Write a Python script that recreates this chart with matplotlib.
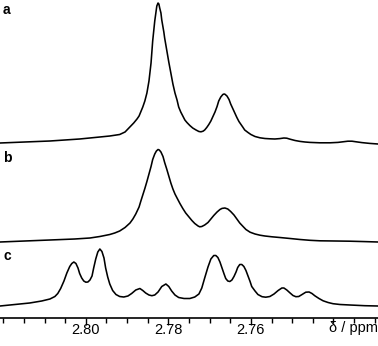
import matplotlib
matplotlib.use("Agg")
import matplotlib.pyplot as plt
from matplotlib.ticker import MultipleLocator
import matplotlib.transforms as mtransforms

plt.rcParams['font.family'] = ['Liberation Sans', 'DejaVu Sans']

# ---- data (chemical shift in ppm, intensity in arbitrary units) ----
ppm_a = [2.8208, 2.8148, 2.8087, 2.8015, 2.7966, 2.7942, 2.7918, 2.7905, 2.7898, 2.7891,
         2.7884, 2.7876, 2.7871, 2.7867, 2.7862, 2.7857, 2.7852, 2.7847, 2.7842, 2.7838,
         2.7833, 2.7830, 2.7828, 2.7825, 2.7823, 2.7821, 2.7818, 2.7816, 2.7811, 2.7809,
         2.7804, 2.7799, 2.7794, 2.7789, 2.7784, 2.7779, 2.7775, 2.7770, 2.7765, 2.7760,
         2.7755, 2.7748, 2.7741, 2.7733, 2.7726, 2.7721, 2.7716, 2.7712, 2.7707, 2.7702,
         2.7697, 2.7692, 2.7687, 2.7682, 2.7678, 2.7673, 2.7668, 2.7665, 2.7663, 2.7658,
         2.7653, 2.7649, 2.7644, 2.7639, 2.7634, 2.7629, 2.7624, 2.7619, 2.7615, 2.7607,
         2.7600, 2.7590, 2.7578, 2.7566, 2.7554, 2.7542, 2.7530, 2.7520, 2.7513, 2.7505,
         2.7493, 2.7481, 2.7469, 2.7457, 2.7433, 2.7408, 2.7389, 2.7375, 2.7365, 2.7355,
         2.7345, 2.7331, 2.7312, 2.7292]
int_a = [2, 3, 4, 6, 8, 9, 10.5, 13, 16, 19,
         22, 26, 29, 33, 38, 44, 52, 64, 82, 104,
         124, 133, 139, 142, 141, 137, 132, 125, 113, 107,
         95, 83, 72, 61, 52, 45, 38, 33, 29, 25,
         22.5, 19.5, 17, 15, 13.5, 13.2, 13.8, 15, 17.5, 20.5,
         24, 28.5, 33, 38.5, 44, 48, 50.5, 51, 50.8, 49,
         45.5, 41, 36.5, 32, 27.5, 23.5, 20.5, 17.5, 15, 12.5,
         10.5, 8.5, 7.2, 6.5, 6.2, 6.0, 6.4, 7, 6.8, 5.8,
         4.5, 3.6, 3, 2.6, 2.2, 2.2, 2.6, 3.3, 3.8, 3.8,
         3.2, 2.4, 1.6, 1]

ppm_b = [2.8208, 2.8148, 2.8087, 2.8027, 2.7990, 2.7966, 2.7942, 2.7930, 2.7918, 2.7905,
         2.7893, 2.7886, 2.7879, 2.7871, 2.7867, 2.7862, 2.7857, 2.7852, 2.7847, 2.7842,
         2.7838, 2.7833, 2.7829, 2.7825, 2.7822, 2.7818, 2.7813, 2.7809, 2.7804, 2.7799,
         2.7794, 2.7789, 2.7784, 2.7779, 2.7772, 2.7765, 2.7758, 2.7750, 2.7743, 2.7736,
         2.7728, 2.7724, 2.7719, 2.7712, 2.7704, 2.7697, 2.7690, 2.7682, 2.7675, 2.7670,
         2.7663, 2.7656, 2.7649, 2.7641, 2.7634, 2.7627, 2.7619, 2.7612, 2.7602, 2.7590,
         2.7578, 2.7566, 2.7549, 2.7530, 2.7505, 2.7481, 2.7457, 2.7433, 2.7396, 2.7360,
         2.7324, 2.7292]
int_b = [3, 4, 5, 6, 7, 8.5, 10.5, 12, 14, 17.5,
         22, 26, 31, 38, 43.5, 50, 56.5, 63.5, 71, 78.5,
         85.5, 91, 94, 95.5, 95, 93, 88.5, 82.5, 76, 69,
         62, 56, 51, 47, 41.5, 36.5, 32, 28, 24.5, 21.5,
         19, 18.2, 18.5, 20, 22.5, 26, 29.5, 33, 35.5, 36.6,
         37, 36, 33.5, 30, 26, 22, 18.5, 15.5, 12.8, 11,
         9.8, 9, 8.2, 7.5, 6.5, 5.5, 4.7, 4.2, 4, 3.8,
         3.4, 3]

ppm_c = [2.8208, 2.8172, 2.8136, 2.8107, 2.8087, 2.8075, 2.8068, 2.8061, 2.8053, 2.8046,
         2.8039, 2.8034, 2.8029, 2.8024, 2.8019, 2.8015, 2.8010, 2.8005, 2.8000, 2.7995,
         2.7990, 2.7985, 2.7981, 2.7976, 2.7971, 2.7966, 2.7961, 2.7956, 2.7952, 2.7947,
         2.7942, 2.7935, 2.7927, 2.7918, 2.7908, 2.7898, 2.7889, 2.7879, 2.7869, 2.7862,
         2.7855, 2.7847, 2.7840, 2.7833, 2.7825, 2.7816, 2.7806, 2.7799, 2.7792, 2.7784,
         2.7775, 2.7762, 2.7748, 2.7736, 2.7726, 2.7719, 2.7712, 2.7704, 2.7697, 2.7690,
         2.7685, 2.7680, 2.7675, 2.7670, 2.7665, 2.7661, 2.7656, 2.7651, 2.7646, 2.7641,
         2.7636, 2.7632, 2.7627, 2.7622, 2.7617, 2.7612, 2.7607, 2.7602, 2.7598, 2.7590,
         2.7583, 2.7573, 2.7564, 2.7554, 2.7544, 2.7534, 2.7525, 2.7520, 2.7513, 2.7505,
         2.7498, 2.7491, 2.7484, 2.7476, 2.7467, 2.7459, 2.7452, 2.7445, 2.7435, 2.7425,
         2.7413, 2.7401, 2.7384, 2.7360, 2.7324, 2.7292]
int_c = [2, 3.5, 5, 7, 9, 11.5, 14.5, 19.5, 27, 35,
         41.5, 44.5, 46, 44.5, 40, 34.5, 30, 27, 25.8, 26,
         28, 32, 40, 49, 56, 59, 56.5, 50, 40, 31,
         24, 17.5, 13.5, 11.5, 11, 12, 14.5, 18, 19.5, 17.5,
         15, 13, 12.3, 13, 16, 21.5, 24, 21.5, 17, 13,
         10.5, 9.5, 9.5, 11, 14, 20, 30, 41, 49, 52.5,
         52.5, 50.5, 46, 40, 34, 29.5, 27, 26.5, 28, 31.5,
         36, 40.5, 43.5, 43.5, 41.5, 37.5, 32, 26.5, 21.5, 17,
         13.5, 11.3, 10.8, 11.5, 14, 17.5, 20, 20, 18, 15,
         12.5, 11.3, 11.5, 13.5, 15.8, 16, 14.5, 12.2, 9.5, 7.2,
         5.5, 4.3, 3.5, 3, 2.3, 2]

trace_labels = ['a', 'b', 'c']
x_ticks = [2.80, 2.78, 2.76]
x_tick_labels = ['2.80', '2.78', '2.76']
x_label = 'δ / ppm'

# ---- layout / style ----
W, H = 378, 346
fig = plt.figure(figsize=(W / 100, H / 100), dpi=100)
ax = fig.add_axes([0, 28 / H, 1, 318 / H])

offsets = [173, 73, 10]
for ppm, inten, off in zip([ppm_a, ppm_b, ppm_c], [int_a, int_b, int_c], offsets):
    ax.plot(ppm, [v + off for v in inten], color='black', lw=1.15,
            solid_joinstyle='round', solid_capstyle='round')

ax.set_xlim(2.8208, 2.7292)
ax.set_ylim(0, 318)

for s in ['top', 'left', 'right']:
    ax.spines[s].set_visible(False)
ax.spines['bottom'].set_linewidth(1.2)
ax.set_yticks([])
ax.set_xticks(x_ticks)
ax.set_xticklabels(x_tick_labels)
ax.xaxis.set_minor_locator(MultipleLocator(0.005))
ax.tick_params(axis='x', which='major', direction='out', length=5, width=1.0,
               labelsize=10.5, pad=-1.5)
ax.tick_params(axis='x', which='minor', direction='out', length=3.6, width=1.0)

trans = mtransforms.blended_transform_factory(ax.transAxes, ax.transData)
for lab, yb in zip(trace_labels, [304, 156, 58]):
    ax.text(3 / W, yb, lab, transform=trans, fontsize=10, fontweight='bold',
            ha='left', va='baseline')

ax.text(0.999, -10 / 318, x_label, transform=ax.transAxes, fontsize=10.5,
        ha='right', va='center')

fig.savefig('out.png', dpi=100)
